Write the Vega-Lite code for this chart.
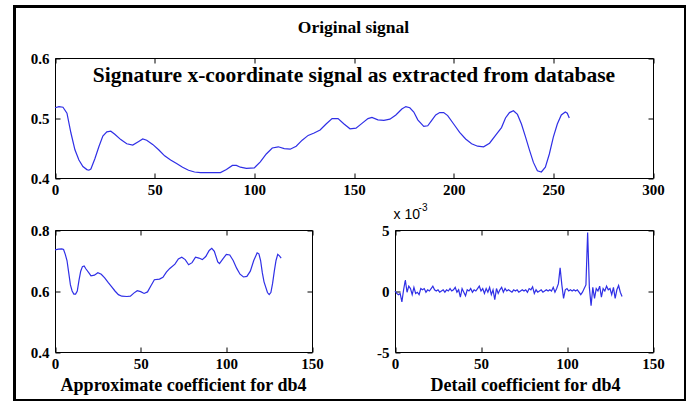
{
  "$schema": "https://vega.github.io/schema/vega-lite/v6.json",
  "width": 671,
  "height": 394,
  "autosize": {"type": "none"},
  "padding": {"left": 14.5, "top": 6.5, "right": 0, "bottom": 0},
  "background": "white",
  "view": {"stroke": "black", "strokeWidth": 3, "fill": "white"},
  "config": {
    "axis": {
      "grid": false,
      "domainColor": "black",
      "domainWidth": 1,
      "tickColor": "black",
      "tickWidth": 1,
      "tickSize": -5,
      "labelFlush": false,
      "labelOverlap": false,
      "labelFont": "Liberation Serif",
      "labelFontWeight": "bold",
      "labelFontSize": 15,
      "labelColor": "black",
      "titleFont": "Liberation Serif",
      "titleFontWeight": "bold",
      "titleFontSize": 18,
      "titleColor": "black",
      "titleAngle": 0,
      "titleAlign": "center",
      "titleBaseline": "middle"
    },
    "axisX": {"labelPadding": 9},
    "axisY": {"labelPadding": 11}
  },
  "datasets": {
    "orig": [
      {"x": 0, "y": 0.517}, {"x": 2, "y": 0.519}, {"x": 4, "y": 0.518}, {"x": 6, "y": 0.508}, {"x": 8, "y": 0.475},
      {"x": 10, "y": 0.447}, {"x": 12, "y": 0.43}, {"x": 14, "y": 0.419}, {"x": 16, "y": 0.414}, {"x": 17, "y": 0.413},
      {"x": 18, "y": 0.415}, {"x": 20, "y": 0.432}, {"x": 22, "y": 0.452}, {"x": 24, "y": 0.47}, {"x": 26, "y": 0.477},
      {"x": 28, "y": 0.478}, {"x": 30, "y": 0.473}, {"x": 33, "y": 0.464}, {"x": 36, "y": 0.457}, {"x": 39, "y": 0.455},
      {"x": 42, "y": 0.461}, {"x": 44, "y": 0.465}, {"x": 46, "y": 0.463}, {"x": 49, "y": 0.456}, {"x": 52, "y": 0.447},
      {"x": 55, "y": 0.437}, {"x": 58, "y": 0.43}, {"x": 61, "y": 0.424}, {"x": 64, "y": 0.418}, {"x": 67, "y": 0.413},
      {"x": 70, "y": 0.41}, {"x": 73, "y": 0.409}, {"x": 76, "y": 0.409}, {"x": 80, "y": 0.409}, {"x": 83, "y": 0.409},
      {"x": 86, "y": 0.414}, {"x": 89, "y": 0.421}, {"x": 91, "y": 0.421}, {"x": 93, "y": 0.418}, {"x": 96, "y": 0.416},
      {"x": 100, "y": 0.417}, {"x": 103, "y": 0.427}, {"x": 106, "y": 0.44}, {"x": 109, "y": 0.45}, {"x": 112, "y": 0.452},
      {"x": 115, "y": 0.449}, {"x": 118, "y": 0.448}, {"x": 121, "y": 0.453}, {"x": 124, "y": 0.463}, {"x": 127, "y": 0.471},
      {"x": 130, "y": 0.475}, {"x": 133, "y": 0.48}, {"x": 136, "y": 0.49}, {"x": 139, "y": 0.499}, {"x": 142, "y": 0.499},
      {"x": 145, "y": 0.49}, {"x": 148, "y": 0.482}, {"x": 151, "y": 0.483}, {"x": 154, "y": 0.491}, {"x": 157, "y": 0.499},
      {"x": 159, "y": 0.501}, {"x": 162, "y": 0.497}, {"x": 165, "y": 0.496}, {"x": 168, "y": 0.498}, {"x": 171, "y": 0.505},
      {"x": 174, "y": 0.515}, {"x": 176, "y": 0.519}, {"x": 178, "y": 0.517}, {"x": 180, "y": 0.51}, {"x": 182, "y": 0.497},
      {"x": 185, "y": 0.486}, {"x": 187, "y": 0.487}, {"x": 189, "y": 0.496}, {"x": 191, "y": 0.505}, {"x": 193, "y": 0.509},
      {"x": 195, "y": 0.509}, {"x": 197, "y": 0.504}, {"x": 200, "y": 0.49}, {"x": 203, "y": 0.476}, {"x": 206, "y": 0.465},
      {"x": 209, "y": 0.457}, {"x": 212, "y": 0.453}, {"x": 215, "y": 0.452}, {"x": 218, "y": 0.458}, {"x": 221, "y": 0.471},
      {"x": 224, "y": 0.484}, {"x": 226, "y": 0.5}, {"x": 228, "y": 0.509}, {"x": 230, "y": 0.512}, {"x": 232, "y": 0.506},
      {"x": 234, "y": 0.49}, {"x": 236, "y": 0.469}, {"x": 238, "y": 0.447}, {"x": 240, "y": 0.426}, {"x": 242, "y": 0.412},
      {"x": 244, "y": 0.41}, {"x": 246, "y": 0.418}, {"x": 248, "y": 0.44}, {"x": 250, "y": 0.468}, {"x": 252, "y": 0.49},
      {"x": 254, "y": 0.505}, {"x": 256, "y": 0.51}, {"x": 257, "y": 0.508}, {"x": 258, "y": 0.5}
    ],
    "approx": [
      {"x": 0, "y": 0.735}, {"x": 2, "y": 0.737}, {"x": 4, "y": 0.738}, {"x": 5, "y": 0.736}, {"x": 6, "y": 0.72},
      {"x": 7, "y": 0.7}, {"x": 8, "y": 0.66}, {"x": 9, "y": 0.62}, {"x": 10, "y": 0.6}, {"x": 11, "y": 0.59},
      {"x": 12, "y": 0.59}, {"x": 13, "y": 0.6}, {"x": 14, "y": 0.635}, {"x": 15, "y": 0.665}, {"x": 16, "y": 0.68},
      {"x": 17, "y": 0.682}, {"x": 18, "y": 0.673}, {"x": 20, "y": 0.658}, {"x": 21, "y": 0.65}, {"x": 23, "y": 0.652},
      {"x": 25, "y": 0.66}, {"x": 27, "y": 0.655}, {"x": 29, "y": 0.643}, {"x": 31, "y": 0.628}, {"x": 33, "y": 0.614},
      {"x": 35, "y": 0.6}, {"x": 37, "y": 0.588}, {"x": 39, "y": 0.583}, {"x": 42, "y": 0.582}, {"x": 44, "y": 0.583},
      {"x": 46, "y": 0.593}, {"x": 48, "y": 0.601}, {"x": 50, "y": 0.598}, {"x": 52, "y": 0.592}, {"x": 54, "y": 0.597},
      {"x": 56, "y": 0.617}, {"x": 58, "y": 0.637}, {"x": 61, "y": 0.639}, {"x": 63, "y": 0.645}, {"x": 65, "y": 0.662},
      {"x": 67, "y": 0.674}, {"x": 70, "y": 0.688}, {"x": 72, "y": 0.705}, {"x": 74, "y": 0.711}, {"x": 76, "y": 0.703},
      {"x": 78, "y": 0.686}, {"x": 80, "y": 0.693}, {"x": 82, "y": 0.711}, {"x": 84, "y": 0.708}, {"x": 86, "y": 0.703},
      {"x": 88, "y": 0.713}, {"x": 90, "y": 0.733}, {"x": 91.5, "y": 0.74}, {"x": 93, "y": 0.73}, {"x": 95, "y": 0.695},
      {"x": 96, "y": 0.69}, {"x": 98, "y": 0.705}, {"x": 100, "y": 0.72}, {"x": 102, "y": 0.718}, {"x": 104, "y": 0.7},
      {"x": 106, "y": 0.675}, {"x": 108, "y": 0.655}, {"x": 110, "y": 0.646}, {"x": 112, "y": 0.648}, {"x": 114, "y": 0.665},
      {"x": 116, "y": 0.7}, {"x": 118, "y": 0.725}, {"x": 119, "y": 0.722}, {"x": 120, "y": 0.7}, {"x": 121, "y": 0.66},
      {"x": 122, "y": 0.63}, {"x": 124, "y": 0.595}, {"x": 125, "y": 0.588}, {"x": 126, "y": 0.595}, {"x": 127, "y": 0.625},
      {"x": 128, "y": 0.665}, {"x": 129, "y": 0.7}, {"x": 130, "y": 0.72}, {"x": 131, "y": 0.715}, {"x": 132, "y": 0.708}
    ],
    "detail": [
      {"x": 0, "y": 0}, {"x": 1, "y": -0.2}, {"x": 2, "y": -0.3}, {"x": 3, "y": -0.2}, {"x": 4, "y": -0.9},
      {"x": 5, "y": 0.1}, {"x": 6, "y": 0.9}, {"x": 7, "y": -0.1}, {"x": 8, "y": 0.4}, {"x": 9, "y": 0.2},
      {"x": 10, "y": -0.3}, {"x": 11, "y": 0.3}, {"x": 12, "y": -0.2}, {"x": 13, "y": -0.1}, {"x": 14, "y": -0.3},
      {"x": 15, "y": 0.2}, {"x": 16, "y": 0.1}, {"x": 17, "y": 0.2}, {"x": 18, "y": -0.1}, {"x": 19, "y": 0.1},
      {"x": 20, "y": 0}, {"x": 21, "y": 0.2}, {"x": 22, "y": 0.4}, {"x": 23, "y": 0.1}, {"x": 24, "y": 0},
      {"x": 25, "y": 0.1}, {"x": 26, "y": -0.1}, {"x": 27, "y": 0}, {"x": 28, "y": 0.1}, {"x": 29, "y": -0.1},
      {"x": 30, "y": 0.1}, {"x": 31, "y": 0}, {"x": 32, "y": 0.2}, {"x": 33, "y": 0}, {"x": 34, "y": 0.1},
      {"x": 35, "y": 0.3}, {"x": 36, "y": -0.1}, {"x": 37, "y": 0.1}, {"x": 38, "y": -0.5}, {"x": 39, "y": 0.2},
      {"x": 40, "y": -0.1}, {"x": 41, "y": -0.4}, {"x": 42, "y": 0.1}, {"x": 43, "y": 0}, {"x": 44, "y": 0.2},
      {"x": 45, "y": -0.1}, {"x": 46, "y": 0.1}, {"x": 47, "y": 0}, {"x": 48, "y": 0.2}, {"x": 49, "y": 0.4},
      {"x": 50, "y": 0}, {"x": 51, "y": 0.2}, {"x": 52, "y": -0.2}, {"x": 53, "y": 0.2}, {"x": 54, "y": -0.1},
      {"x": 55, "y": 0.3}, {"x": 56, "y": -0.3}, {"x": 57, "y": 0.1}, {"x": 58, "y": -0.7}, {"x": 59, "y": 0.2},
      {"x": 60, "y": -0.2}, {"x": 61, "y": 0.1}, {"x": 62, "y": 0.3}, {"x": 63, "y": -0.1}, {"x": 64, "y": 0.2},
      {"x": 65, "y": 0}, {"x": 66, "y": 0.1}, {"x": 67, "y": 0}, {"x": 68, "y": -0.1}, {"x": 69, "y": 0.1},
      {"x": 70, "y": 0}, {"x": 71, "y": 0.1}, {"x": 72, "y": -0.1}, {"x": 73, "y": 0}, {"x": 74, "y": 0.1},
      {"x": 75, "y": 0}, {"x": 76, "y": 0.1}, {"x": 77, "y": -0.1}, {"x": 78, "y": 0.2}, {"x": 79, "y": 0.1},
      {"x": 80, "y": 0.35}, {"x": 81, "y": -0.2}, {"x": 82, "y": 0.1}, {"x": 83, "y": -0.1}, {"x": 84, "y": 0},
      {"x": 85, "y": 0.1}, {"x": 86, "y": -0.1}, {"x": 87, "y": 0}, {"x": 88, "y": 0.1}, {"x": 89, "y": 0},
      {"x": 90, "y": 0.1}, {"x": 91, "y": 0}, {"x": 92, "y": 0.3}, {"x": 93, "y": -0.1}, {"x": 94, "y": 0.2},
      {"x": 95, "y": 0.6}, {"x": 96, "y": 1.9}, {"x": 97, "y": 0.5}, {"x": 98, "y": -0.6}, {"x": 99, "y": 0.1},
      {"x": 100, "y": 0.2}, {"x": 101, "y": 0}, {"x": 102, "y": 0.1}, {"x": 103, "y": 0}, {"x": 104, "y": 0.1},
      {"x": 105, "y": 0}, {"x": 106, "y": 0.1}, {"x": 107, "y": -0.1}, {"x": 108, "y": -0.3}, {"x": 109, "y": -0.1},
      {"x": 110, "y": 0.2}, {"x": 111, "y": 0.5}, {"x": 112, "y": 4.8}, {"x": 113, "y": 0.3}, {"x": 114, "y": -1.2},
      {"x": 115, "y": 0.3}, {"x": 116, "y": -0.6}, {"x": 117, "y": 0.2}, {"x": 118, "y": 0}, {"x": 119, "y": 0.4},
      {"x": 120, "y": -0.5}, {"x": 121, "y": 0.2}, {"x": 122, "y": 0}, {"x": 123, "y": 0.4}, {"x": 124, "y": 0.1},
      {"x": 125, "y": 0.2}, {"x": 126, "y": -0.3}, {"x": 127, "y": 0.3}, {"x": 128, "y": -0.6}, {"x": 129, "y": 0.1},
      {"x": 130, "y": 0.45}, {"x": 131, "y": -0.1}, {"x": 132, "y": -0.45}
    ],
    "note": [
      {"label": "Signature x-coordinate signal as extracted from database", "x": 150, "y": 0.57}
    ]
  },
  "layer": [
    {
      "data": {"name": "orig"},
      "layer": [
        {
          "mark": {"type": "line", "color": "#2f2fe6", "strokeWidth": 1.2},
          "encoding": {
            "x": {"field": "x", "type": "quantitative",
              "scale": {"domain": [0, 300], "range": [40.5, 638.5], "nice": false, "zero": false},
              "axis": {"orient": "bottom", "offset": -222.5, "values": [0, 50, 100, 150, 200, 250, 300], "title": null}},
            "y": {"field": "y", "type": "quantitative",
              "scale": {"domain": [0.4, 0.6], "range": [171.5, 51.5], "nice": false, "zero": false},
              "axis": {"orient": "left", "offset": -40.5, "values": [0.4, 0.5, 0.6], "format": ".1f", "title": null}}
          }
        },
        {
          "mark": {"type": "line", "opacity": 0},
          "encoding": {
            "x": {"field": "x", "type": "quantitative",
              "axis": {"orient": "top", "offset": -51.5, "values": [0, 50, 100, 150, 200, 250, 300], "labels": false,
                "title": "Original signal", "titleX": 338.5, "titleY": -31, "titleFontSize": 17.5}},
            "y": {"field": "y", "type": "quantitative",
              "axis": {"orient": "right", "offset": -32.5, "values": [0.4, 0.5, 0.6], "labels": false, "title": null}}
          }
        },
        {
          "data": {"name": "note"},
          "mark": {"type": "text", "font": "Liberation Serif", "fontWeight": "bold", "fontSize": 21.5, "color": "black", "align": "center", "baseline": "middle"},
          "encoding": {
            "x": {"field": "x", "type": "quantitative", "axis": null},
            "y": {"field": "y", "type": "quantitative", "axis": null},
            "text": {"field": "label"}
          }
        }
      ],
      "resolve": {"axis": {"x": "independent", "y": "independent"}}
    },
    {
      "data": {"name": "approx"},
      "layer": [
        {
          "mark": {"type": "line", "color": "#2f2fe6", "strokeWidth": 1.2},
          "encoding": {
            "x": {"field": "x", "type": "quantitative",
              "scale": {"domain": [0, 150], "range": [40.5, 297.5], "nice": false, "zero": false},
              "axis": {"orient": "bottom", "offset": -48.5, "values": [0, 50, 100, 150],
                "title": "Approximate coefficient for db4", "titleX": 168.5, "titleY": 33}},
            "y": {"field": "y", "type": "quantitative",
              "scale": {"domain": [0.4, 0.8], "range": [345.5, 223.5], "nice": false, "zero": false},
              "axis": {"orient": "left", "offset": -40.5, "values": [0.4, 0.6, 0.8], "format": ".1f", "title": null}}
          }
        },
        {
          "mark": {"type": "line", "opacity": 0},
          "encoding": {
            "x": {"field": "x", "type": "quantitative",
              "axis": {"orient": "top", "offset": -223.5, "values": [0, 50, 100, 150], "labels": false, "title": null}},
            "y": {"field": "y", "type": "quantitative",
              "axis": {"orient": "right", "offset": -373.5, "values": [0.4, 0.6, 0.8], "labels": false, "title": null}}
          }
        }
      ],
      "resolve": {"axis": {"x": "independent", "y": "independent"}}
    },
    {
      "data": {"name": "detail"},
      "layer": [
        {
          "mark": {"type": "line", "color": "#2f2fe6", "strokeWidth": 1.2},
          "encoding": {
            "x": {"field": "x", "type": "quantitative",
              "scale": {"domain": [0, 150], "range": [380.5, 638.5], "nice": false, "zero": false},
              "axis": {"orient": "bottom", "offset": -48.5, "values": [0, 50, 100, 150],
                "title": "Detail coefficient for db4", "titleX": 510.5, "titleY": 33}},
            "y": {"field": "y", "type": "quantitative",
              "scale": {"domain": [-5, 5], "range": [345.5, 223.5], "nice": false, "zero": false},
              "axis": {"orient": "left", "offset": -380.5, "values": [-5, 0, 5], "labelExpr": "replace(datum.label, '−', '-')",
                "title": "x 10", "titleFont": "Liberation Sans", "titleFontWeight": "normal", "titleFontSize": 14,
                "titleAlign": "left", "titleX": -2, "titleY": 208}}
          }
        },
        {
          "mark": {"type": "line", "opacity": 0},
          "encoding": {
            "x": {"field": "x", "type": "quantitative",
              "axis": {"orient": "top", "offset": -223.5, "values": [0, 50, 100, 150], "labels": false,
                "title": "-3", "titleFont": "Liberation Sans", "titleFontWeight": "normal", "titleFontSize": 10,
                "titleX": 408, "titleY": -23}},
            "y": {"field": "y", "type": "quantitative",
              "axis": {"orient": "right", "offset": -32.5, "values": [-5, 0, 5], "labels": false, "title": null}}
          }
        }
      ],
      "resolve": {"axis": {"x": "independent", "y": "independent"}}
    }
  ],
  "resolve": {"scale": {"x": "independent", "y": "independent"}, "axis": {"x": "independent", "y": "independent"}}
}
